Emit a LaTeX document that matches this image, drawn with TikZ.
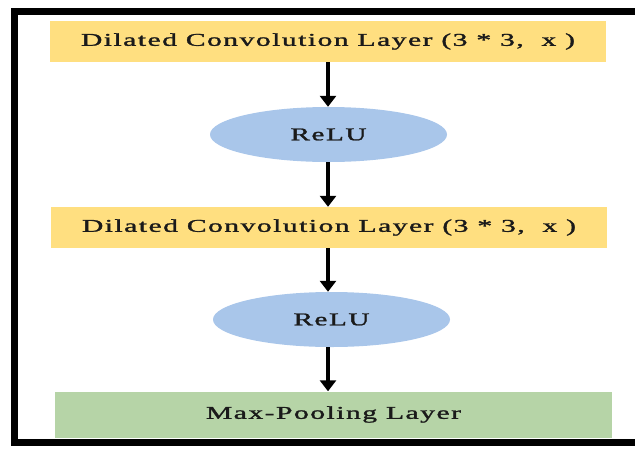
\documentclass[tikz,border=0pt]{standalone}
\usepackage{fontspec}
\usepackage{graphicx}
\setmainfont{Liberation Serif}[LetterSpace=5, FakeBold=1.2]
\usetikzlibrary{arrows.meta,shapes.geometric}
\definecolor{convfill}{HTML}{FFDF80}
\definecolor{relufill}{HTML}{A9C6EA}
\definecolor{poolfill}{HTML}{B6D4A7}
\definecolor{labelink}{HTML}{1A1A1A}
% stretch a label to a given width while keeping its height
\newcommand{\widelabel}[2]{\resizebox{#1}{\height}{#2}}
\tikzset{
  every node/.style={text=labelink, font=\fontsize{18}{20}\selectfont, inner sep=0pt},
  convbox/.style={rectangle, fill=convfill, minimum width=556pt, minimum height=41pt},
  relublob/.style={ellipse, fill=relufill, minimum width=237pt, minimum height=55pt},
  poolbox/.style={rectangle, fill=poolfill, minimum width=557pt, minimum height=46pt},
  flow/.style={line width=3.2pt, -{Triangle[width=16pt,length=11pt]}},
}
\begin{document}
\begin{tikzpicture}[x=1pt,y=-1pt]
\useasboundingbox (0,0) rectangle (635,448);
% outer frame, open on the right
\draw[line width=7pt, line join=miter] (640,11) -- (14,11) -- (14,442) -- (640,442);
\node[convbox] (conv1) at (328,41.5) {\widelabel{494pt}{Dilated Convolution Layer (3 * 3,\ \ x )}};
\node[relublob] (relu1) at (328.5,134.5) {\widelabel{76pt}{ReLU}};
\node[convbox] (conv2) at (329,227.5) {\widelabel{494pt}{Dilated Convolution Layer (3 * 3,\ \ x )}};
\node[relublob] (relu2) at (331.5,319.5) {\widelabel{76pt}{ReLU}};
\node[poolbox] (pool) at (333.5,414.5) {\widelabel{255pt}{Max-Pooling Layer}};
\coordinate (ax) at (328,0);
\draw[flow] (conv1.south -| ax) -- (relu1.north -| ax);
\draw[flow] (relu1.south -| ax) -- (conv2.north -| ax);
\draw[flow] (conv2.south -| ax) -- (relu2.north -| ax);
\draw[flow] (relu2.south -| ax) -- (pool.north -| ax);
\end{tikzpicture}
\end{document}
